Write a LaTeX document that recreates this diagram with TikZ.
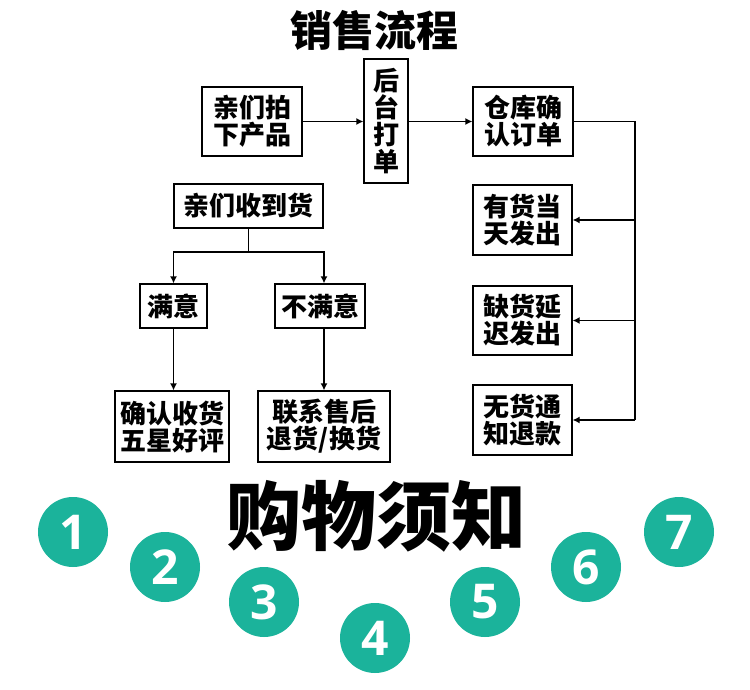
\documentclass[tikz,border=0pt]{standalone}
\usepackage{fontspec}
\newfontfamily\cjk{Noto Sans CJK SC}
\newfontfamily\numfont{Open Sans}
\usetikzlibrary{arrows.meta}
\definecolor{teal1}{RGB}{27,179,155}
\tikzset{
  box/.style={draw=black, line width=1.3pt, inner sep=0pt, align=center,
    font=\cjk\bfseries\fontsize{26}{27}\selectfont},
  conn/.style={line width=1.3pt},
  arr/.style={conn, -{Latex[length=7pt,width=7pt]}},
  num/.style={circle, fill=teal1, minimum size=70pt, inner sep=0pt, text=white,
    font=\numfont\bfseries\fontsize{48}{48}\selectfont},
}
\begin{document}
\begin{tikzpicture}[x=1pt,y=-1pt]
\useasboundingbox[fill=white] (0,0) rectangle (750,690);
\node[font=\cjk\bfseries\fontsize{42}{42}\selectfont] (title) at (374,30) {销售流程};
\node[box, minimum width=100pt, minimum height=69pt] (buy) at (252,121.5) {亲们拍\\下产品};
\node[box, minimum width=44pt, minimum height=124pt] (print) at (386,121) {后\\台\\打\\单};
\node[box, minimum width=100pt, minimum height=69pt] (wh) at (523,121.5) {仓库确\\认订单};
\node[box, minimum width=99pt, minimum height=70pt] (instock) at (522.5,220) {有货当\\天发出};
\node[box, minimum width=99pt, minimum height=69pt] (short) at (522.5,320.5) {缺货延\\迟发出};
\node[box, minimum width=99pt, minimum height=70pt] (none) at (522.5,420) {无货通\\知退款};
\node[box, minimum width=149pt, minimum height=44pt] (recv) at (248.5,206) {亲们收到货};
\node[box, minimum width=67pt, minimum height=44pt] (sat) at (173.5,306) {满意};
\node[box, minimum width=90pt, minimum height=44pt] (unsat) at (320,306) {不满意};
\node[box, minimum width=114pt, minimum height=71pt] (good) at (172,426.5) {确认收货\\五星好评};
\node[box, minimum width=132pt, minimum height=71pt] (after) at (324,426.5) {联系售后\\退货/换货};

\draw[arr] (buy.east) -- (print.west |- buy.east);
\draw[arr] (print.east |- wh.west) -- (wh.west);
\coordinate (bus) at (635,121.5);
\coordinate (split) at (248.5,252);
\draw[conn] (wh.east) -- (bus) -- (bus |- none.east);
\draw[arr] (bus |- instock.east) -- (instock.east);
\draw[arr] (bus |- short.east) -- (short.east);
\draw[arr] (bus |- none.east) -- (none.east);
\draw[conn] (recv.south) -- (split);
\draw[arr] (split) -| (sat.north);
\draw[arr] (split) -| ([xshift=4pt]unsat.north);
\draw[arr] (sat.south) -- (sat.south |- good.north);
\draw[arr] ([xshift=4pt]unsat.south) -- ([xshift=4pt]unsat.south |- after.north);

\node[font=\cjk\bfseries\fontsize{75}{75}\selectfont] (shop) at (376,516) {购物须知};
\node[num] (n1) at (73,532) {1};
\node[num] (n2) at (165,567) {2};
\node[num] (n3) at (264,602) {3};
\node[num] (n4) at (375,638) {4};
\node[num] (n5) at (485,602) {5};
\node[num] (n6) at (586,567) {6};
\node[num] (n7) at (679,532) {7};
\end{tikzpicture}
\end{document}
